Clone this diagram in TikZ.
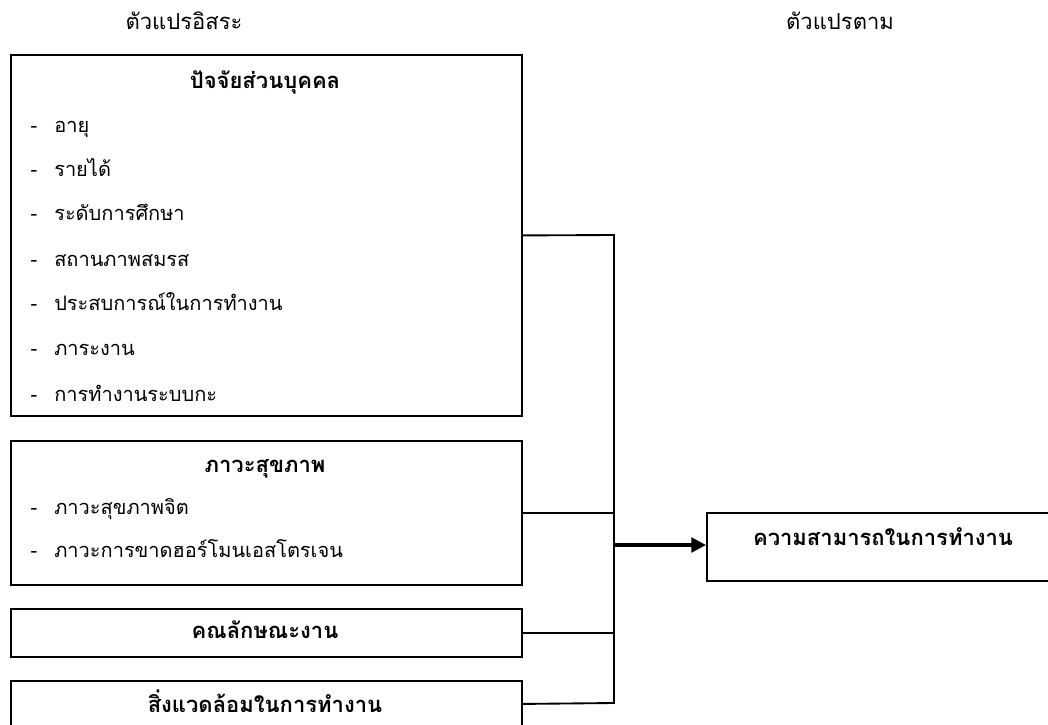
\documentclass[tikz,border=0pt]{standalone}
\usepackage{fontspec}
\newfontfamily\thai[Script=Thai]{Loma}
\usetikzlibrary{arrows.meta}
\begin{document}
\begin{tikzpicture}[x=0.75pt,y=-0.75pt,
  every node/.style={font=\thai\fontsize{15pt}{17pt}\selectfont, inner sep=0pt},
  hdr/.style={font=\thai\fontsize{16.5pt}{18pt}\selectfont, anchor=mid},
  box/.style={draw, line width=1.4pt, rectangle, anchor=north west},
  ttl/.style={font=\thai\bfseries\fontsize{16.5pt}{18pt}\selectfont, anchor=mid},
  itm/.style={anchor=mid west},
  dsh/.style={anchor=mid},
  link/.style={line width=1.4pt},
  arr/.style={line width=2.4pt, -{Triangle[length=11pt,width=11pt]}}]
\useasboundingbox (0,0) rectangle (1048,724);
% headers
\node[hdr] (hind) at (184,27) {ตัวแปรอิสระ};
\node[hdr] (hdep) at (840,27) {ตัวแปรตาม};
% box 1
\node[box, minimum width=511*0.75pt, minimum height=361*0.75pt] (b1) at (10,54) {};
\node[ttl] (t1) at (265,86) {ปัจจัยส่วนบุคคล};
\foreach \i/\y/\t in {1/130/อายุ,2/174/รายได้,3/218/ระดับการศึกษา,4/264/สถานภาพสมรส,5/308/ประสบการณ์ในการทำงาน,6/353/ภาระงาน,7/399/การทำงานระบบกะ}{
  \node[dsh] (d1\i) at (34,\y) {-};
  \node[itm] (i1\i) at (54,\y) {\t};
}
% box 2
\node[box, minimum width=511*0.75pt, minimum height=144*0.75pt] (b2) at (10,440) {};
\node[ttl] (t2) at (265,470) {ภาวะสุขภาพ};
\node[dsh] (d21) at (34,512) {-};
\node[itm] (i21) at (54,512) {ภาวะสุขภาพจิต};
\node[dsh] (d22) at (34,555) {-};
\node[itm] (i22) at (54,555) {ภาวะการขาดฮอร์โมนเอสโตรเจน};
% box 3
\node[box, minimum width=511*0.75pt, minimum height=48*0.75pt] (b3) at (10,608) {};
\node[ttl] (t3) at (265,636) {คณลักษณะงาน};
% box 4
\node[box, minimum width=511*0.75pt, minimum height=46*0.75pt] (b4) at (10,680) {};
\node[ttl] (t4) at (265,710) {สิ่งแวดล้อมในการทำงาน};
% dependent
\node[box, minimum width=354*0.75pt, minimum height=68*0.75pt] (dep) at (706,512) {};
\node[ttl] (td) at (883,543) {ความสามารถในการทำงาน};
% bus
\coordinate (bt) at (614,235);
\coordinate (bb) at (614,703);
\coordinate (bm) at (614,545);
\draw[link] (b1.east) -- (bt) -- (bb) -- (b4.east);
\draw[link] (b2.east) -- (b2.east -| bt);
\draw[link] (b3.east) -- (b3.east -| bt);
\draw[arr] (bm) -- (dep.west |- bm);
\end{tikzpicture}
\end{document}
